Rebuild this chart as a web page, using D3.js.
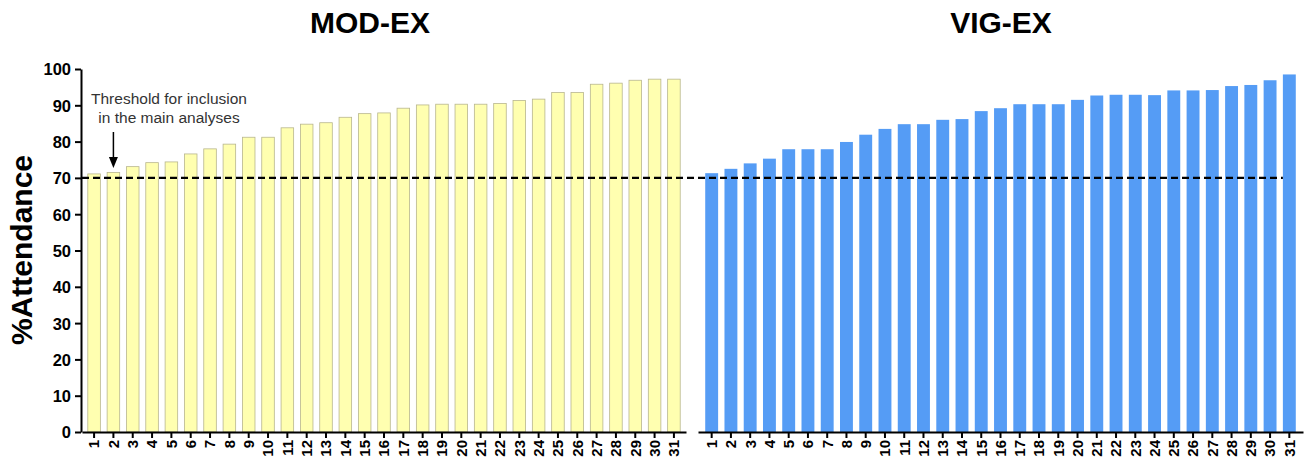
<!DOCTYPE html>
<html>
<head>
<meta charset="utf-8">
<script src="https://d3js.org/d3.v7.min.js"></script>
<style>
  body { margin: 0; background: #fff; }
  svg text { font-family: Arial, "Liberation Sans", sans-serif; }
  .tick text { font-weight: bold; fill: #000; }
</style>
</head>
<body>
<div id="chart"></div>
<script>

var svgWidth = 1306;
var svgHeight = 465;

// participants 1..31
var participants = d3.range(1, 32);

// % attendance, sorted
var modEx = [71.1, 71.5, 73.1, 74.2, 74.4, 76.6, 78.0, 79.3, 81.2, 81.2,
  83.8, 84.8, 85.2, 86.7, 87.7, 87.9, 89.2, 90.1, 90.3, 90.3,
  90.3, 90.5, 91.3, 91.7, 93.5, 93.5, 95.8, 96.1, 96.9, 97.2, 97.2];

var vigEx = [71.3, 72.5, 74.0, 75.3, 77.9, 77.9, 77.9, 79.9, 81.9, 83.5,
  84.8, 84.8, 86.0, 86.2, 88.4, 89.2, 90.3, 90.3, 90.3, 91.5,
  92.7, 92.9, 92.9, 92.8, 94.1, 94.1, 94.2, 95.3, 95.6, 96.9, 98.5];

var yTicks = [0, 10, 20, 30, 40, 50, 60, 70, 80, 90, 100];
var threshold = 70;

var svg = d3.select('#chart')
  .append('svg')
  .attr('width', svgWidth)
  .attr('height', svgHeight);

var yScale = d3.scaleLinear()
  .domain([0, 100])
  .range([432, 69]);

var xLeft = d3.scaleBand()
  .domain(participants)
  .range([82, 686])
  .paddingInner(0.35)
  .paddingOuter(0.3);

var xRight = d3.scaleBand()
  .domain(participants)
  .range([698, 1303])
  .paddingInner(0.33)
  .paddingOuter(0.375);

// bars
svg.append('g').selectAll('rect')
  .data(modEx)
  .enter()
  .append('rect')
  .attr('x', (d, i) => xLeft(participants[i]))
  .attr('y', d => yScale(d))
  .attr('width', xLeft.bandwidth())
  .attr('height', d => yScale(0) - yScale(d))
  .attr('fill', '#ffffb0')
  .attr('stroke', '#b8b68e')
  .attr('stroke-width', 0.8);

svg.append('g').selectAll('rect')
  .data(vigEx)
  .enter()
  .append('rect')
  .attr('x', (d, i) => xRight(participants[i]))
  .attr('y', d => yScale(d))
  .attr('width', xRight.bandwidth())
  .attr('height', d => yScale(0) - yScale(d))
  .attr('fill', '#559cf5');

// axes
var leftAxis = d3.axisLeft(yScale).tickValues(yTicks).tickSize(6).tickSizeOuter(0);
var yAxis = svg.append('g')
  .attr('transform', 'translate(81, 0)')
  .call(leftAxis);
yAxis.selectAll('text').attr('font-size', '16.5px').attr('dx', '-1').attr('dy', '0.36em');

function drawXAxis(scale) {
  var axis = d3.axisBottom(scale).tickSize(6).tickSizeOuter(0);
  var g = svg.append('g')
    .attr('transform', `translate(0, ${yScale(0)})`)
    .call(axis);
  g.selectAll('text')
    .attr('font-size', '15px')
    .attr('transform', 'rotate(-90)')
    .attr('text-anchor', 'end')
    .attr('x', -8)
    .attr('y', 0)
    .attr('dy', '0.36em');
  return g;
}

var axes = [yAxis, drawXAxis(xLeft), drawXAxis(xRight)];
axes.forEach(function(g) {
  g.attr('font-family', null);
  g.selectAll('path, line').attr('stroke', '#000').attr('stroke-width', 2);
});

// threshold line
svg.append('line')
  .attr('x1', 82)
  .attr('x2', xRight(31))
  .attr('y1', yScale(threshold))
  .attr('y2', yScale(threshold))
  .attr('stroke', '#000')
  .attr('stroke-width', 2.2)
  .attr('stroke-dasharray', '7,4');

// titles
svg.append('text')
  .attr('x', 370)
  .attr('y', 33)
  .attr('text-anchor', 'middle')
  .attr('font-size', '30px')
  .attr('font-weight', 'bold')
  .text('MOD-EX');

svg.append('text')
  .attr('x', 1001)
  .attr('y', 33)
  .attr('text-anchor', 'middle')
  .attr('font-size', '30px')
  .attr('font-weight', 'bold')
  .text('VIG-EX');

svg.append('text')
  .attr('transform', 'translate(32, 250) rotate(-90)')
  .attr('text-anchor', 'middle')
  .attr('font-size', '30px')
  .attr('font-weight', 'bold')
  .text('%Attendance');

// annotation
var note = svg.append('text')
  .attr('text-anchor', 'middle')
  .attr('font-size', '15.5px')
  .attr('fill', '#333');
note.append('tspan').attr('x', 169).attr('y', 104).text('Threshold for inclusion');
note.append('tspan').attr('x', 169).attr('y', 123).text('in the main analyses');

var arrowX = xLeft(2) + xLeft.bandwidth() / 2;
svg.append('line')
  .attr('x1', arrowX)
  .attr('x2', arrowX)
  .attr('y1', 132)
  .attr('y2', 158)
  .attr('stroke', '#000')
  .attr('stroke-width', 1.5);

svg.append('path')
  .attr('d', `M${arrowX - 4.5},157 L${arrowX + 4.5},157 L${arrowX},168 Z`)
  .attr('fill', '#000');

</script>
</body>
</html>
